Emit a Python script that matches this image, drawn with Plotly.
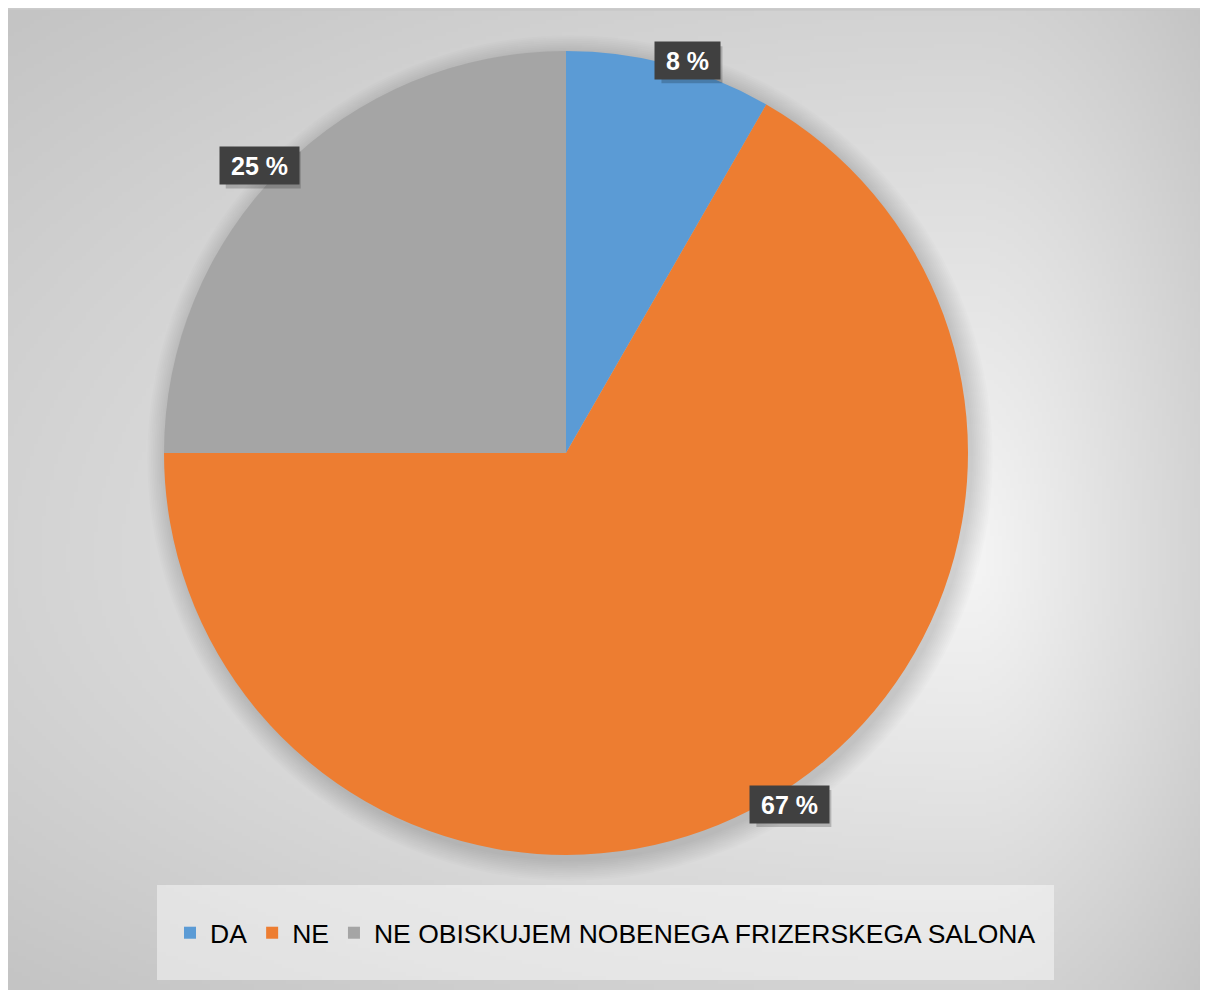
import base64
import math
import struct
import zlib

import numpy as np
import plotly.graph_objects as go

# ---------------- data ----------------
categories = ["DA", "NE", "NE OBISKUJEM NOBENEGA FRIZERSKEGA SALONA"]
shares = [8.3, 66.7, 25.0]          # percent of respondents
label_texts = ["8 %", "67 %", "25 %"]
slice_colors = ["#5B9BD5", "#ED7D31", "#A5A5A5"]

# ---------------- geometry (style) ----------------
W, H = 1200, 982            # figure size (page offset of 8px by body margin)
OFF = 8
PIE_CX, PIE_CY, PIE_R = 566, 453, 402   # screen px


def px_to_paper(x, y):
    return (x - OFF) / W, 1 - (y - OFF) / H


# ---------------- background gradient image ----------------
def gradient_png(w, h):
    sx = np.linspace(OFF, OFF + W, w)
    sy = np.linspace(10, OFF + H, h)
    X, Y = np.meshgrid(sx, sy)
    cx, cy = 975.0, 560.0
    nx = np.where(X >= cx, (X - cx) / (OFF + W - cx), (cx - X) / (cx - OFF))
    ny = np.where(Y >= cy, (Y - cy) / (OFF + H - cy), (cy - Y) / (cy - 10))
    d = np.sqrt(nx ** 2 + ny ** 2) / math.sqrt(2)
    d = np.clip(d, 0, 1)
    light, dark = 245.0, 196.0
    v = light - (light - dark) * d ** 1.05
    img = np.clip(v, 0, 255).astype(np.uint8)
    raw = b"".join(b"\x00" + img[r].tobytes() for r in range(h))

    def chunk(tag, data):
        c = struct.pack(">I", len(data)) + tag + data
        return c + struct.pack(">I", zlib.crc32(tag + data) & 0xFFFFFFFF)

    png = b"\x89PNG\r\n\x1a\n"
    png += chunk(b"IHDR", struct.pack(">IIBBBBB", w, h, 8, 0, 0, 0, 0))
    png += chunk(b"IDAT", zlib.compress(raw, 9))
    png += chunk(b"IEND", b"")
    return "data:image/png;base64," + base64.b64encode(png).decode()


# ---------------- figure ----------------
dx0, dy_top = px_to_paper(PIE_CX - PIE_R, PIE_CY - PIE_R)
dx1, dy_bot = px_to_paper(PIE_CX + PIE_R, PIE_CY + PIE_R)

fig = go.Figure(
    go.Pie(
        labels=categories,
        values=shares,
        sort=False,
        direction="clockwise",
        rotation=0,
        textinfo="none",
        hoverinfo="label+percent",
        marker=dict(colors=slice_colors, line=dict(width=0)),
        domain=dict(x=[dx0, dx1], y=[dy_bot, dy_top]),
        showlegend=True,
    )
)

# background image
img_top = 1 - (10 - OFF) / H
fig.add_layout_image(
    dict(
        source=gradient_png(300, 245),
        xref="paper", yref="paper",
        x=0, y=img_top, sizex=1, sizey=img_top,
        xanchor="left", yanchor="top",
        sizing="stretch", layer="below",
    )
)

# soft pie shadow (offset down-right)
shapes = []
for i in range(12):
    r = PIE_R + 1 + i * 1.8
    x0, y0 = px_to_paper(PIE_CX + 4 - r, PIE_CY + 5 - r)
    x1, y1 = px_to_paper(PIE_CX + 4 + r, PIE_CY + 5 + r)
    shapes.append(dict(type="circle", xref="paper", yref="paper",
                       x0=x0, x1=x1, y0=y1, y1=y0,
                       fillcolor="rgba(0,0,0,0.012)", line=dict(width=0),
                       layer="below"))

# legend box
lx0, ly0 = px_to_paper(157, 885)
lx1, ly1 = px_to_paper(1054, 980)
shapes.append(dict(type="rect", xref="paper", yref="paper",
                   x0=lx0, x1=lx1, y0=ly1, y1=ly0,
                   fillcolor="rgba(255,255,255,0.45)", line=dict(width=0),
                   layer="below"))

# top border line of chart area
shapes.append(dict(type="line", xref="paper", yref="paper",
                   x0=0, x1=1, y0=img_top, y1=img_top,
                   line=dict(color="#c4c4c4", width=1), layer="below"))

# data labels: placed just outside the rim at each slice's mid-angle
BOLD_W = {"0": 556, "1": 556, "2": 556, "3": 556, "4": 556, "5": 556,
          "6": 556, "7": 556, "8": 556, "9": 556, " ": 278, "%": 889}
LBL_FONT = 25
BOX_H = 37
annotations = []
total = sum(shares)
cum = 0.0
for val, txt in zip(shares, label_texts):
    mid = (cum + val / 2) / total * 2 * math.pi
    cum += val
    tw = sum(BOLD_W.get(c, 556) for c in txt) / 1000 * LBL_FONT
    box_w = round(tw + 18)
    rim_x = PIE_CX + PIE_R * math.sin(mid)
    rim_y = PIE_CY - PIE_R * math.cos(mid)
    sgn = 1 if math.sin(mid) >= 0 else -1
    cx = rim_x + sgn * 0.6 * box_w / 2
    cy = rim_y - 4 * math.cos(mid)
    # drop shadow of the label box
    sx0, sy0 = px_to_paper(cx - box_w / 2 + 4, cy - BOX_H / 2 + 4)
    sx1, sy1 = px_to_paper(cx + box_w / 2 + 4, cy + BOX_H / 2 + 4)
    shapes.append(dict(type="rect", xref="paper", yref="paper",
                       x0=sx0, x1=sx1, y0=sy1, y1=sy0,
                       fillcolor="rgba(0,0,0,0.2)", line=dict(width=0),
                       layer="above"))
    px, py = px_to_paper(cx, cy)
    annotations.append(dict(x=px, y=py, xref="paper", yref="paper",
                            xanchor="center", yanchor="middle",
                            text="<b>" + txt + "</b>", showarrow=False,
                            width=box_w, height=BOX_H - 4, borderpad=2,
                            font=dict(family="Liberation Sans, Arial", size=LBL_FONT,
                                      color="white"),
                            bgcolor="#404040"))

lgx, lgy = px_to_paper(605.5, 933)
fig.update_layout(
    width=W, height=H,
    margin=dict(l=0, r=0, t=0, b=0),
    paper_bgcolor="#cbcbcb",
    plot_bgcolor="rgba(0,0,0,0)",
    shapes=shapes,
    annotations=annotations,
    legend=dict(
        orientation="h",
        x=lgx, xanchor="center",
        y=lgy, yanchor="middle",
        bgcolor="rgba(0,0,0,0)",
        font=dict(family="Liberation Sans, Arial", size=26.5, color="black"),
        itemwidth=30,
        traceorder="normal",
    ),
)

fig.write_html("out.html", post_script="document.body.style.overflow='hidden';")
